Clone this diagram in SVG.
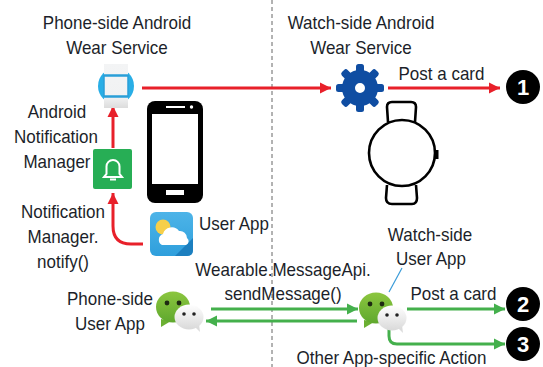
<svg xmlns="http://www.w3.org/2000/svg" xmlns:xlink="http://www.w3.org/1999/xlink" width="543" height="367" viewBox="0 0 543 367">
<style>
text{font-family:"Liberation Sans",Arial,sans-serif;font-size:17px;fill:#1c1f2a;text-anchor:middle;transform-box:fill-box;transform-origin:center bottom;transform:scaleY(1.1)}
.s{text-anchor:start}
.red{fill:none;stroke:#e8202a;stroke-width:3}
.grn{fill:none;stroke:#44b04c;stroke-width:3}
.num{fill:#000}
text.numt{fill:#fff;font-size:22px;font-weight:bold;transform:none}
.ph{fill:#000}
.w{fill:none;stroke:#000;stroke-width:2.6}
</style>
<defs>
<marker id="ar" markerUnits="userSpaceOnUse" markerWidth="12" markerHeight="14" refX="11" refY="6.500" orient="auto"><path d="M0 1 L11 6.500 L0 12 Z" fill="#e8202a"/></marker>
<marker id="ag" markerUnits="userSpaceOnUse" markerWidth="12" markerHeight="14" refX="11" refY="6.500" orient="auto"><path d="M0 1 L11 6.500 L0 12 Z" fill="#44b04c"/></marker>
<linearGradient id="gg" x1="0" y1="0" x2="0" y2="1"><stop offset="0" stop-color="#8cc63f"/><stop offset="1" stop-color="#5fa82e"/></linearGradient>
<linearGradient id="gw" x1="0" y1="0" x2="0" y2="1"><stop offset="0" stop-color="#fff"/><stop offset="1" stop-color="#d9d9d9"/></linearGradient>
<linearGradient id="bl" x1="0" y1="0" x2="0" y2="1"><stop offset="0" stop-color="#4db4e8"/><stop offset="1" stop-color="#2f9fdc"/></linearGradient>
<linearGradient id="pap" x1="0" y1="0" x2="0" y2="1"><stop offset="0" stop-color="#f3f4f5"/><stop offset=".75" stop-color="#f1f2f3"/><stop offset="1" stop-color="#dcdcdc"/></linearGradient>
<g id="chat">
<path d="M-12 12 L-12 20 L-2 14 Z" fill="#6bb032"/>
<ellipse cx="0" cy="0" rx="17" ry="15.500" fill="url(#gg)"/>
<circle cx="-6" cy="-4" r="2.400" fill="#1e2a12"/><circle cx="6" cy="-4" r="2.400" fill="#1e2a12"/>
<path d="M22 20 L27 25 L26 17 Z" fill="#dcdcdc"/>
<ellipse cx="16" cy="10" rx="14.500" ry="12.500" fill="url(#gw)"/>
<circle cx="11" cy="7" r="1.800" fill="#222"/><circle cx="21" cy="7" r="1.800" fill="#222"/>
</g>
<rect id="tooth" x="-4" y="-24" width="8" height="10" rx="2.500" fill="#0f4da2"/>
</defs>
<rect width="543" height="367" fill="#fff"/>
<path d="M272 0V367" stroke="#666" stroke-width="1" stroke-dasharray="4 3" fill="none"/>

<g id="connectors">
<path class="red" d="M142 88H331" marker-end="url(#ar)"/>
<path class="red" d="M388 88H500" marker-end="url(#ar)"/>
<path class="red" d="M113 148V106" marker-end="url(#ar)"/>
<path class="red" d="M143 244H131Q113 244 113 226V193" marker-end="url(#ar)"/>
<path class="grn" d="M211 309H358" marker-end="url(#ag)"/>
<path class="grn" d="M357 321H206" marker-end="url(#ag)"/>
<path class="grn" d="M407 309H505" marker-end="url(#ag)"/>
<path class="grn" d="M389 328V336Q389 344 397 344H505" marker-end="url(#ag)"/>
<path d="M389 292L402 268" stroke="#3a9bd8" stroke-width="1.200" fill="none"/>
</g>

<g id="phone-service">
<circle cx="116" cy="86" r="18" fill="#29aee6"/>
<rect x="104" y="64" width="24" height="44" fill="url(#pap)"/>
<path d="M104 75.500H128M104 96.500H128" stroke="#2a9fd8" stroke-width="2.500"/>
<path d="M104 75V97M128 75V97" stroke="#2a9fd8" stroke-width="1.500"/>
<text x="117" y="29">Phone-side Android</text>
<text x="117" y="54">Wear Service</text>
</g>
<g id="watch-service">
<g transform="translate(360 88)">
<use xlink:href="#tooth"/><use xlink:href="#tooth" transform="rotate(45)"/><use xlink:href="#tooth" transform="rotate(90)"/><use xlink:href="#tooth" transform="rotate(135)"/><use xlink:href="#tooth" transform="rotate(180)"/><use xlink:href="#tooth" transform="rotate(225)"/><use xlink:href="#tooth" transform="rotate(270)"/><use xlink:href="#tooth" transform="rotate(315)"/>
<circle r="11.500" fill="none" stroke="#0f4da2" stroke-width="13"/>
</g>
<text x="361" y="29">Watch-side Android</text>
<text x="361" y="54">Wear Service</text>
</g>
<g id="notification-manager">
<rect x="93" y="149" width="39" height="40" rx="2" fill="#27ae55"/>
<path d="M113 160a6.500 6.500 0 0 0-6.500 6.500V174L104 177H122L119.500 174V166.500A6.500 6.500 0 0 0 113 160Z" fill="none" stroke="#fff" stroke-width="2"/>
<path d="M110 179.500H116" stroke="#fff" stroke-width="2"/>
<text x="57" y="118">Android</text>
<text x="56" y="143">Notification</text>
<text x="57" y="168">Manager</text>
</g>
<g id="phone">
<rect class="ph" x="147" y="101" width="56" height="102" rx="8"/>
<rect x="152" y="114" width="46" height="70" fill="#fff"/>
<rect x="166" y="106" width="19" height="2" fill="#fff"/>
<circle cx="191.500" cy="107" r="1.700" fill="#fff"/>
<rect x="166" y="190" width="18" height="5" fill="#fff"/>
</g>
<g id="watch">
<path class="w" d="M388 122L387 107Q387 102 392 102H411Q416 102 416 107L415 122"/>
<path class="w" d="M387 185L386 198Q386 204 392 204H412Q417 204 417 198L416 185"/>
<circle class="w" cx="402" cy="153" r="33" fill="#fff"/>
<rect x="435" y="150" width="3.500" height="9" fill="#000"/>
</g>
<g id="user-app">
<rect x="150" y="212" width="43" height="44" rx="6" fill="url(#bl)"/>
<path d="M175 256L193 238V250Q193 256 187 256Z" fill="#1c7fbf"/>
<circle cx="163" cy="227" r="7.500" fill="#f6cf4a"/>
<path d="M162 245a6 6 0 0 1 1-11a9 9 0 0 1 16-3a7 7 0 0 1 8 7a4 4 0 0 1-1 7Z" fill="#fff"/>
<text class="s" x="199" y="230">User App</text>
</g>
<g id="notify-label">
<text x="63" y="218">Notification</text>
<text x="63" y="243">Manager.</text>
<text x="63" y="268">notify()</text>
</g>
<g id="message-label">
<text x="283" y="276">Wearable.MessageApi.</text>
<text x="283" y="300">sendMessage()</text>
</g>
<g id="phone-app">
<use xlink:href="#chat" transform="translate(173 307)"/>
<text x="110" y="305">Phone-side</text>
<text x="110" y="330">User App</text>
</g>
<g id="watch-app">
<use xlink:href="#chat" transform="translate(376 308)"/>
<text x="430" y="241">Watch-side</text>
<text x="431" y="265">User App</text>
</g>
<g id="result-1">
<circle class="num" cx="523" cy="87" r="17"/>
<text class="numt" x="523" y="95">1</text>
<text x="441.500" y="80">Post a card</text>
</g>
<g id="result-2">
<circle class="num" cx="523" cy="304" r="17"/>
<text class="numt" x="523" y="312">2</text>
<text x="453.500" y="300">Post a card</text>
</g>
<g id="result-3">
<circle class="num" cx="523" cy="344" r="17"/>
<text class="numt" x="523" y="352">3</text>
<text x="391.500" y="364">Other App-specific Action</text>
</g>
</svg>
